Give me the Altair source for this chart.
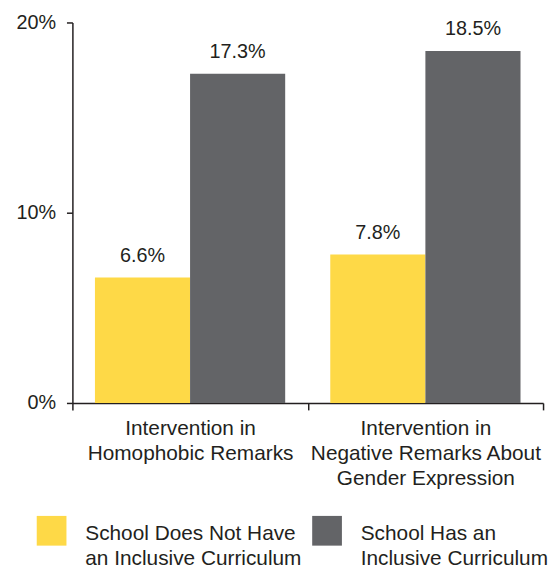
import altair as alt
import pandas as pd

categories = ["Intervention in|Homophobic Remarks",
              "Intervention in|Negative Remarks About|Gender Expression"]
series = ["School Does Not Have|an Inclusive Curriculum",
          "School Has an|Inclusive Curriculum"]
no_curriculum = [6.6, 7.8]
has_curriculum = [17.3, 18.5]
y_ticks = [0, 10, 20]
colors = ["#FED947", "#636467"]

rows = []
for i, c in enumerate(categories):
    rows.append({"category": c, "series": series[0], "value": no_curriculum[i]})
    rows.append({"category": c, "series": series[1], "value": has_curriculum[i]})
df = pd.DataFrame(rows)

FONT = "Liberation Sans"
INK = "#231f20"

x = alt.X("category:N", sort=categories,
          scale=alt.Scale(paddingInner=0, paddingOuter=0),
          axis=alt.Axis(title=None, labelAngle=0,
                        labelExpr="split(datum.label, '|')",
                        tickBand="extent", labelFontSize=21,
                        labelLineHeight=25, labelPadding=8, tickSize=7,
                        labelBaseline="top", labelLimit=400,
                        domainColor=INK, tickColor=INK, labelColor=INK,
                        domainWidth=1.5, tickWidth=1.5, labelFont=FONT))
xo = alt.XOffset("series:N", sort=series,
                 scale=alt.Scale(paddingOuter=0.237, paddingInner=0))
y = alt.Y("value:Q", scale=alt.Scale(domain=[0, 20]),
          axis=alt.Axis(values=y_ticks, title=None, grid=False,
                        labelExpr="datum.value + '%'", tickSize=6,
                        labelPadding=11, labelFontSize=20, labelFont=FONT,
                        labelColor=INK, domainColor=INK, tickColor=INK,
                        domainWidth=1.5, tickWidth=1.5))

color = alt.Color("series:N", sort=series,
                  scale=alt.Scale(domain=series, range=colors),
                  legend=alt.Legend(orient="none", legendX=-36, legendY=507,
                                    direction="horizontal", title=None,
                                    symbolType="M-1,-1.6H1V0.4H-1Z",
                                    symbolSize=900, symbolStrokeWidth=0,
                                    symbolOpacity=1,
                                    labelExpr="split(datum.label, '|')",
                                    labelFontSize=21,
                                    labelOffset=19, columnPadding=10,
                                    labelLimit=400, labelBaseline="alphabetic",
                                    labelFont=FONT, labelColor=INK, padding=0))

bars = alt.Chart(df).mark_bar(opacity=1).encode(x=x, xOffset=xo, y=y, color=color)
labels = alt.Chart(df).transform_calculate(
    lab="format(datum.value, '.1f') + '%'"
).mark_text(dy=-16, baseline="alphabetic", fontSize=20,
            font=FONT, color=INK).encode(x=x, xOffset=xo, y=y, text="lab:N")

chart = alt.layer(bars, labels).properties(
    width=475, height=384,
    padding={"left": 7, "top": 2, "right": 0, "bottom": 0}
).configure(
    view={"strokeWidth": 0},
    style={"guide-label": {"lineHeight": 26}}
)

chart.save("out.html", embed_options={"renderer": "svg", "actions": False})
